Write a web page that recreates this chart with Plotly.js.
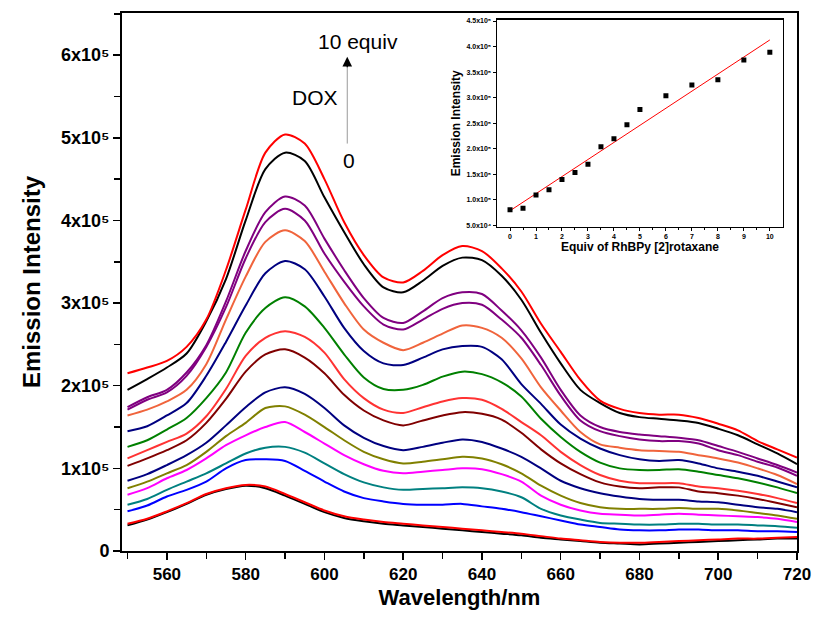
<!DOCTYPE html>
<html>
<head>
<meta charset="utf-8">
<script src="https://cdn.plot.ly/plotly-3.0.1.min.js"></script>
<style>html,body{margin:0;padding:0;background:#fff;}#chart{width:815px;height:619px;}</style>
</head>
<body>
<div id="chart"></div>
<script>
// Wavelength (nm)
const wavelength = [550,555,560,565,570,575,580,585,590,595,600,605,610,615,620,625,630,635,640,645,650,655,660,665,670,675,680,685,690,695,700,705,710,715,720];

// Emission intensity (x10^5) for each DOX equivalent
const eq0   = [0.31,0.38,0.47,0.57,0.68,0.75,0.79,0.76,0.67,0.57,0.47,0.40,0.36,0.33,0.31,0.29,0.27,0.25,0.23,0.21,0.19,0.16,0.14,0.12,0.10,0.09,0.08,0.09,0.10,0.11,0.12,0.13,0.14,0.15,0.15];
const eq0_5 = [0.33,0.39,0.48,0.58,0.69,0.76,0.80,0.78,0.69,0.59,0.49,0.42,0.38,0.35,0.33,0.31,0.29,0.27,0.25,0.23,0.21,0.18,0.15,0.13,0.11,0.10,0.10,0.11,0.12,0.13,0.14,0.15,0.15,0.16,0.17];
const eq1   = [0.48,0.55,0.66,0.74,0.84,1.00,1.10,1.11,1.09,0.97,0.84,0.72,0.64,0.60,0.57,0.56,0.56,0.57,0.54,0.51,0.47,0.42,0.37,0.32,0.29,0.26,0.25,0.25,0.26,0.26,0.25,0.25,0.24,0.24,0.23];
const eq1_5 = [0.56,0.63,0.74,0.84,0.94,1.06,1.18,1.25,1.26,1.19,1.06,0.93,0.83,0.77,0.74,0.75,0.76,0.77,0.76,0.72,0.65,0.51,0.43,0.38,0.34,0.33,0.32,0.32,0.33,0.33,0.32,0.32,0.31,0.30,0.28];
const eq2   = [0.68,0.76,0.88,0.98,1.12,1.28,1.40,1.50,1.56,1.44,1.30,1.16,1.05,0.97,0.94,0.96,0.98,1.00,0.99,0.93,0.84,0.67,0.56,0.49,0.45,0.44,0.43,0.44,0.45,0.44,0.43,0.42,0.41,0.39,0.35];
const eq2_5 = [0.76,0.84,0.94,1.04,1.20,1.39,1.55,1.73,1.75,1.65,1.50,1.34,1.20,1.11,1.06,1.08,1.11,1.14,1.12,1.05,0.94,0.79,0.67,0.58,0.53,0.51,0.51,0.51,0.52,0.51,0.51,0.49,0.46,0.43,0.39];
const eq3   = [0.85,0.93,1.04,1.16,1.31,1.52,1.74,1.92,1.98,1.90,1.73,1.52,1.37,1.27,1.22,1.26,1.31,1.35,1.32,1.24,1.14,1.00,0.85,0.76,0.70,0.66,0.63,0.62,0.62,0.60,0.59,0.56,0.53,0.51,0.47];
const eq3_5 = [1.03,1.12,1.22,1.34,1.55,1.84,2.17,2.38,2.44,2.34,2.15,1.89,1.70,1.58,1.52,1.58,1.64,1.68,1.66,1.59,1.43,1.23,1.06,0.93,0.83,0.78,0.76,0.77,0.77,0.72,0.70,0.67,0.63,0.58,0.53];
const eq4   = [1.12,1.22,1.32,1.42,1.63,1.96,2.36,2.58,2.66,2.59,2.40,2.08,1.85,1.71,1.67,1.74,1.81,1.85,1.83,1.72,1.56,1.40,1.20,1.04,0.92,0.85,0.82,0.82,0.82,0.78,0.76,0.73,0.69,0.64,0.58];
const eq4_5 = [1.26,1.34,1.47,1.61,1.85,2.16,2.64,2.94,3.07,2.96,2.70,2.38,2.10,1.96,1.95,2.01,2.11,2.17,2.14,2.04,1.87,1.60,1.38,1.20,1.07,1.00,0.98,0.98,0.99,0.96,0.92,0.88,0.83,0.77,0.70];
const eq5   = [1.45,1.51,1.64,1.79,2.12,2.53,2.97,3.36,3.51,3.41,3.08,2.70,2.42,2.27,2.25,2.34,2.44,2.48,2.47,2.32,2.02,1.78,1.53,1.36,1.24,1.16,1.11,1.09,1.10,1.06,1.00,0.96,0.91,0.84,0.77];
const eq6   = [1.64,1.71,1.81,1.95,2.26,2.80,3.32,3.74,3.88,3.75,3.38,3.00,2.68,2.52,2.43,2.52,2.63,2.73,2.70,2.58,2.33,1.98,1.70,1.44,1.29,1.25,1.22,1.21,1.20,1.16,1.12,1.07,1.00,0.92,0.81];
const eq7   = [1.71,1.83,1.92,2.12,2.47,2.95,3.54,3.98,4.14,4.00,3.60,3.26,2.96,2.74,2.68,2.80,2.93,3.00,2.98,2.80,2.58,2.25,1.88,1.58,1.45,1.39,1.35,1.33,1.33,1.30,1.22,1.16,1.08,1.01,0.91];
const eq8   = [1.74,1.86,1.95,2.16,2.49,3.02,3.63,4.10,4.29,4.18,3.78,3.40,3.06,2.82,2.76,2.90,3.06,3.13,3.11,2.91,2.67,2.34,1.95,1.64,1.50,1.44,1.41,1.39,1.37,1.34,1.27,1.20,1.12,1.04,0.95];
const eq9   = [1.95,2.08,2.22,2.39,2.78,3.29,4.00,4.62,4.82,4.72,4.28,3.86,3.47,3.19,3.13,3.27,3.45,3.55,3.52,3.33,3.04,2.64,2.27,1.95,1.79,1.67,1.62,1.60,1.58,1.55,1.48,1.40,1.29,1.18,1.05];
const eq10  = [2.15,2.22,2.30,2.47,2.80,3.40,4.13,4.82,5.04,4.93,4.50,3.98,3.58,3.31,3.25,3.39,3.58,3.69,3.63,3.42,3.14,2.75,2.41,2.07,1.82,1.72,1.67,1.65,1.65,1.61,1.54,1.46,1.33,1.23,1.13];

const seriesNames = ['0 equiv','0.5 equiv','1 equiv','1.5 equiv','2 equiv','2.5 equiv','3 equiv','3.5 equiv','4 equiv','4.5 equiv','5 equiv','6 equiv','7 equiv','8 equiv','9 equiv','10 equiv'];
const seriesData = [eq0,eq0_5,eq1,eq1_5,eq2,eq2_5,eq3,eq3_5,eq4,eq4_5,eq5,eq6,eq7,eq8,eq9,eq10];
const seriesColors = ['#000000','#FF0000','#0000FF','#008080','#FF00FF','#808000','#000080','#800000','#FF3333','#008000','#000080','#F0643C','#800080','#800080','#000000','#FF0000'];

// Inset: emission intensity (x10^5) vs equiv of RhBPy [2]rotaxane
const insetEquiv = [0,0.5,1,1.5,2,2.5,3,3.5,4,4.5,5,6,7,8,9,10];
const insetIntensity = [0.81,0.84,1.10,1.20,1.40,1.54,1.70,2.04,2.20,2.47,2.77,3.04,3.25,3.35,3.74,3.89];
const fitEquiv = [0,10];
const fitIntensity = [0.79,4.13];

// Tick labels
const yTickVals = [0,1,2,3,4,5,6];
const yTickText = ['0','1x10\u2075','2x10\u2075','3x10\u2075','4x10\u2075','5x10\u2075','6x10\u2075'];
const yMinorVals = [0.5,1.5,2.5,3.5,4.5,5.5,6.5];
const xTickVals = [560,580,600,620,640,660,680,700,720];
const xMinorVals = [550,570,590,610,630,650,670,690,710];
const insetYTickVals = [0.5,1.0,1.5,2.0,2.5,3.0,3.5,4.0,4.5];
const insetYTickText = ['5.0x10\u2074','1.0x10\u2075','1.5x10\u2075','2.0x10\u2075','2.5x10\u2075','3.0x10\u2075','3.5x10\u2075','4.0x10\u2075','4.5x10\u2075'];
const insetXTickVals = [0,1,2,3,4,5,6,7,8,9,10];
const insetXMinorVals = [0.5,1.5,2.5,3.5,4.5,5.5,6.5,7.5,8.5,9.5];

const FONT = 'Arial, "Liberation Sans", "DejaVu Sans", sans-serif';

const traces = seriesData.map((ys, i) => ({
  type: 'scatter', mode: 'lines', name: seriesNames[i],
  x: wavelength, y: ys,
  line: {color: seriesColors[i], width: 2, shape: 'spline', smoothing: 0.8},
  hoverinfo: 'skip', showlegend: false
}));

traces.push({
  type: 'scatter', mode: 'lines', x: fitEquiv, y: fitIntensity,
  xaxis: 'x2', yaxis: 'y2', line: {color: '#FF0000', width: 1}, showlegend: false, hoverinfo: 'skip'
});
traces.push({
  type: 'scatter', mode: 'markers', x: insetEquiv, y: insetIntensity,
  xaxis: 'x2', yaxis: 'y2', marker: {symbol: 'square', size: 5, color: '#000'}, showlegend: false, hoverinfo: 'skip'
});

const layout = {
  width: 815, height: 619,
  margin: {l: 122, r: 18, t: 13, b: 68},
  paper_bgcolor: '#fff', plot_bgcolor: '#fff',
  showlegend: false,
  font: {family: FONT, color: '#000'},
  xaxis: {
    range: [548.6, 720], tickmode: 'array', tickvals: xTickVals,
    ticks: 'outside', ticklen: 7, tickwidth: 1.5, tickcolor: '#000',
    minor: {tickmode: 'array', tickvals: xMinorVals, ticks: 'outside', ticklen: 6, tickwidth: 1.5, tickcolor: '#000', showgrid: false},
    showline: true, linewidth: 2, linecolor: '#000', mirror: true,
    showgrid: false, zeroline: false,
    tickfont: {family: FONT, size: 17, weight: 'bold', color: '#000'},
    title: {text: 'Wavelength/nm', font: {family: FONT, size: 22, weight: 'bold', color: '#000'}, standoff: 6}
  },
  yaxis: {
    range: [0, 6.51], tickmode: 'array', tickvals: yTickVals, ticktext: yTickText,
    ticks: 'outside', ticklen: 7, tickwidth: 1.5, tickcolor: '#000',
    minor: {tickmode: 'array', tickvals: yMinorVals, ticks: 'outside', ticklen: 6, tickwidth: 1.5, tickcolor: '#000', showgrid: false},
    showline: true, linewidth: 2, linecolor: '#000', mirror: true,
    showgrid: false, zeroline: false,
    tickfont: {family: FONT, size: 18, weight: 'bold', color: '#000'},
    title: {text: 'Emission Intensity', font: {family: FONT, size: 24, weight: 'bold', color: '#000'}, standoff: 14}
  },
  xaxis2: {
    domain: [0.5556, 0.979], anchor: 'y2', range: [-0.5, 10.5],
    tickmode: 'array', tickvals: insetXTickVals,
    ticks: 'outside', ticklen: 3, tickwidth: 1, tickcolor: '#000',
    minor: {tickmode: 'array', tickvals: insetXMinorVals, ticks: 'outside', ticklen: 2, tickwidth: 1, tickcolor: '#000', showgrid: false},
    showline: true, linewidth: 1.5, linecolor: '#000', mirror: true,
    showgrid: false, zeroline: false,
    tickfont: {family: FONT, size: 7, weight: 'bold', color: '#000'},
    title: {text: 'Equiv of RhBPy [2]rotaxane', font: {family: FONT, size: 12, weight: 'bold', color: '#000'}, standoff: 3}
  },
  yaxis2: {
    domain: [0.603, 0.987], anchor: 'x2', range: [0.48, 4.52],
    tickmode: 'array', tickvals: insetYTickVals, ticktext: insetYTickText,
    ticks: 'outside', ticklen: 3, tickwidth: 1, tickcolor: '#000',
    showline: true, linewidth: 1.5, linecolor: '#000', mirror: true,
    showgrid: false, zeroline: false,
    tickfont: {family: FONT, size: 7, weight: 'bold', color: '#000'},
    title: {text: 'Emission Intensity', font: {family: FONT, size: 12, weight: 'bold', color: '#000'}, standoff: 3}
  },
  shapes: [
    {type: 'line', xref: 'x', yref: 'y', x0: 605.8, x1: 605.8, y0: 4.93, y1: 5.9, line: {color: '#999', width: 1}}
  ],
  annotations: [
    {xref: 'x', yref: 'y', x: 605.8, y: 5.98, ax: 0, ay: 12, text: '', showarrow: true, arrowhead: 2, arrowsize: 1.6, arrowwidth: 1.2, arrowcolor: '#000'},
    {xref: 'x', yref: 'y', x: 608.4, y: 6.16, text: '10 equiv', showarrow: false, font: {family: FONT, size: 21, color: '#000'}},
    {xref: 'x', yref: 'y', x: 597.6, y: 5.49, text: 'DOX', showarrow: false, font: {family: FONT, size: 21, color: '#000'}},
    {xref: 'x', yref: 'y', x: 606.3, y: 4.73, text: '0', showarrow: false, font: {family: FONT, size: 21, color: '#000'}}
  ]
};

Plotly.newPlot('chart', traces, layout, {staticPlot: true, displayModeBar: false});
</script>
</body>
</html>
